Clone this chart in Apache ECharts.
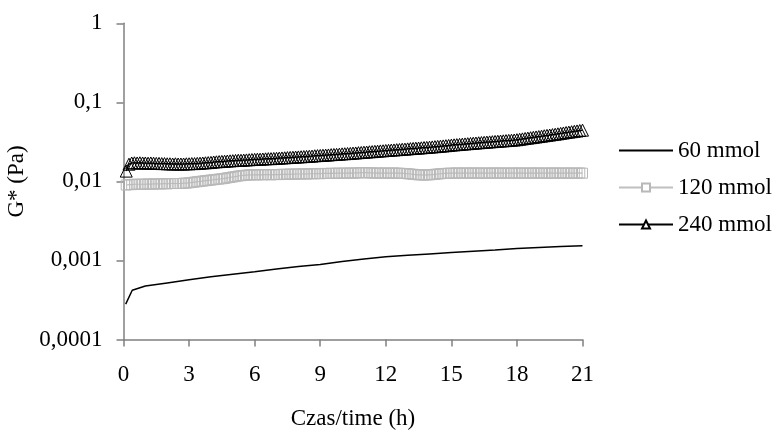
<!DOCTYPE html>
<html lang="pl" style="height: 100%">
<head>
    <meta charset="UTF-8">
    <title>G* w czasie</title>
    <script src="https://cdn.jsdelivr.net/npm/echarts@6/dist/echarts.min.js"></script>
</head>
<body style="height: 100%; margin: 0">
<div id="main" style="width: 774px; height: 430px"></div>
<script>
    // czas pomiaru (h) dla serii 120 i 240 mmol, jeden wiersz = jedna godzina
    var hours = [
        0.125, 0.25, 0.375, 0.5, 0.625, 0.75, 0.875, 1,
        1.125, 1.25, 1.375, 1.5, 1.625, 1.75, 1.875, 2,
        2.125, 2.25, 2.375, 2.5, 2.625, 2.75, 2.875, 3,
        3.125, 3.25, 3.375, 3.5, 3.625, 3.75, 3.875, 4,
        4.125, 4.25, 4.375, 4.5, 4.625, 4.75, 4.875, 5,
        5.125, 5.25, 5.375, 5.5, 5.625, 5.75, 5.875, 6,
        6.125, 6.25, 6.375, 6.5, 6.625, 6.75, 6.875, 7,
        7.125, 7.25, 7.375, 7.5, 7.625, 7.75, 7.875, 8,
        8.125, 8.25, 8.375, 8.5, 8.625, 8.75, 8.875, 9,
        9.125, 9.25, 9.375, 9.5, 9.625, 9.75, 9.875, 10,
        10.125, 10.25, 10.375, 10.5, 10.625, 10.75, 10.875, 11,
        11.125, 11.25, 11.375, 11.5, 11.625, 11.75, 11.875, 12,
        12.125, 12.25, 12.375, 12.5, 12.625, 12.75, 12.875, 13,
        13.125, 13.25, 13.375, 13.5, 13.625, 13.75, 13.875, 14,
        14.125, 14.25, 14.375, 14.5, 14.625, 14.75, 14.875, 15,
        15.125, 15.25, 15.375, 15.5, 15.625, 15.75, 15.875, 16,
        16.125, 16.25, 16.375, 16.5, 16.625, 16.75, 16.875, 17,
        17.125, 17.25, 17.375, 17.5, 17.625, 17.75, 17.875, 18,
        18.125, 18.25, 18.375, 18.5, 18.625, 18.75, 18.875, 19,
        19.125, 19.25, 19.375, 19.5, 19.625, 19.75, 19.875, 20,
        20.125, 20.25, 20.375, 20.5, 20.625, 20.75, 20.875, 21
    ];

    var g120 = [
        0.0090, 0.0091, 0.0091, 0.0092, 0.0092, 0.0092, 0.0092, 0.0092,
        0.0093, 0.0092, 0.0093, 0.0093, 0.0093, 0.0093, 0.0094, 0.0093,
        0.0094, 0.0094, 0.0094, 0.0094, 0.0094, 0.0095, 0.0095, 0.0096,
        0.0097, 0.0098, 0.0099, 0.0100, 0.0101, 0.0102, 0.0103, 0.0104,
        0.0105, 0.0106, 0.0107, 0.0108, 0.0109, 0.0111, 0.0112, 0.0114,
        0.0115, 0.0117, 0.0118, 0.0119, 0.0120, 0.0121, 0.0121, 0.0121,
        0.0121, 0.0122, 0.0121, 0.0122, 0.0122, 0.0121, 0.0122, 0.0122,
        0.0122, 0.0123, 0.0123, 0.0123, 0.0124, 0.0123, 0.0124, 0.0124,
        0.0124, 0.0125, 0.0124, 0.0125, 0.0125, 0.0125, 0.0126, 0.0125,
        0.0126, 0.0126, 0.0126, 0.0127, 0.0126, 0.0127, 0.0127, 0.0127,
        0.0127, 0.0127, 0.0128, 0.0127, 0.0128, 0.0128, 0.0129, 0.0129,
        0.0129, 0.0128, 0.0128, 0.0127, 0.0128, 0.0127, 0.0127, 0.0128,
        0.0127, 0.0127, 0.0128, 0.0127, 0.0127, 0.0126, 0.0126, 0.0125,
        0.0124, 0.0123, 0.0122, 0.0121, 0.0121, 0.0120, 0.0121, 0.0121,
        0.0122, 0.0123, 0.0124, 0.0125, 0.0126, 0.0126, 0.0127, 0.0127,
        0.0127, 0.0128, 0.0127, 0.0127, 0.0128, 0.0127, 0.0127, 0.0128,
        0.0127, 0.0127, 0.0128, 0.0127, 0.0127, 0.0127, 0.0128, 0.0127,
        0.0127, 0.0128, 0.0127, 0.0127, 0.0127, 0.0128, 0.0127, 0.0127,
        0.0128, 0.0127, 0.0127, 0.0127, 0.0128, 0.0127, 0.0127, 0.0128,
        0.0127, 0.0127, 0.0127, 0.0128, 0.0127, 0.0127, 0.0128, 0.0127,
        0.0127, 0.0127, 0.0128, 0.0127, 0.0127, 0.0127, 0.0128, 0.0127
    ];

    var g240 = [
        0.0135, 0.0165, 0.0171, 0.0172, 0.0171, 0.0172, 0.0171, 0.0171,
        0.0170, 0.0171, 0.0170, 0.0169, 0.0169, 0.0168, 0.0168, 0.0167,
        0.0167, 0.0166, 0.0167, 0.0166, 0.0166, 0.0166, 0.0167, 0.0167,
        0.0168, 0.0168, 0.0169, 0.0170, 0.0171, 0.0172, 0.0173, 0.0174,
        0.0176, 0.0177, 0.0178, 0.0179, 0.0180, 0.0181, 0.0182, 0.0183,
        0.0184, 0.0185, 0.0185, 0.0186, 0.0187, 0.0188, 0.0189, 0.0190,
        0.0191, 0.0191, 0.0192, 0.0193, 0.0194, 0.0194, 0.0195, 0.0196,
        0.0197, 0.0198, 0.0199, 0.0200, 0.0201, 0.0202, 0.0203, 0.0204,
        0.0205, 0.0206, 0.0207, 0.0208, 0.0209, 0.0211, 0.0212, 0.0213,
        0.0214, 0.0215, 0.0216, 0.0218, 0.0219, 0.0220, 0.0221, 0.0223,
        0.0224, 0.0225, 0.0226, 0.0228, 0.0229, 0.0231, 0.0232, 0.0234,
        0.0235, 0.0237, 0.0238, 0.0240, 0.0241, 0.0243, 0.0244, 0.0246,
        0.0247, 0.0249, 0.0250, 0.0252, 0.0253, 0.0255, 0.0256, 0.0258,
        0.0260, 0.0261, 0.0263, 0.0264, 0.0266, 0.0268, 0.0269, 0.0271,
        0.0273, 0.0275, 0.0277, 0.0279, 0.0281, 0.0283, 0.0285, 0.0288,
        0.0290, 0.0292, 0.0294, 0.0296, 0.0298, 0.0300, 0.0302, 0.0304,
        0.0306, 0.0308, 0.0310, 0.0312, 0.0314, 0.0316, 0.0318, 0.0320,
        0.0322, 0.0324, 0.0326, 0.0328, 0.0330, 0.0332, 0.0334, 0.0337,
        0.0341, 0.0345, 0.0349, 0.0353, 0.0357, 0.0361, 0.0365, 0.0369,
        0.0373, 0.0378, 0.0382, 0.0386, 0.0391, 0.0395, 0.0400, 0.0405,
        0.0410, 0.0415, 0.0420, 0.0425, 0.0430, 0.0435, 0.0440, 0.0445
    ];

    // seria 60 mmol: [czas (h), G* (Pa)]
    var g60 = [
        [0.1, 0.00028], [0.4, 0.00042], [1, 0.000475], [2, 0.00052], [3, 0.00057], [4, 0.00062],
        [5, 0.00067], [6, 0.00072], [7, 0.00078], [8, 0.00084], [9, 0.00089], [10, 0.00097],
        [11, 0.00104], [12, 0.00111], [13, 0.00116], [14, 0.00121], [15, 0.00126], [16, 0.00131],
        [17, 0.00136], [18, 0.00142], [19, 0.00146], [20, 0.0015], [21, 0.00154]
    ];

    var seriesNames = ['60 mmol', '120 mmol', '240 mmol'];
    var yTickLabels = ['0,0001', '0,001', '0,01', '0,1', '1'];

    function pairs(xs, ys) {
        return xs.map(function (x, i) { return [x, ys[i]]; });
    }

    var font = 'Liberation Serif';
    var axisGray = '#808080';
    var clear = 'rgba(255,255,255,0)';

    var option = {
        animation: false,
        backgroundColor: '#fff',
        textStyle: {fontFamily: font, color: '#000'},
        grid: {left: 123.5, right: 191.5, top: 23.3, bottom: 90.5, outerBoundsMode: 'none'},
        legend: {
            orient: 'vertical',
            left: 613,
            top: 134,
            itemWidth: 54,
            itemHeight: 10,
            itemGap: 14,
            textStyle: {fontFamily: font, fontSize: 23, color: '#000'},
            data: [
                {name: seriesNames[0], itemStyle: {opacity: 0}},
                {name: seriesNames[1], itemStyle: {color: '#fff'}},
                {name: seriesNames[2], itemStyle: {color: '#fff'}}
            ]
        },
        xAxis: {
            type: 'value',
            min: 0,
            max: 21,
            interval: 3,
            name: 'Czas/time (h)',
            nameLocation: 'middle',
            nameGap: 68,
            nameTextStyle: {fontFamily: font, fontSize: 23, color: '#000'},
            axisLine: {lineStyle: {color: axisGray, width: 1.5}},
            axisTick: {length: 7, lineStyle: {color: axisGray, width: 1.5}},
            axisLabel: {fontFamily: font, fontSize: 23, color: '#000', margin: 24},
            splitLine: {show: false}
        },
        yAxis: {
            type: 'log',
            logBase: 10,
            min: 0.0001,
            max: 1,
            name: 'G* (Pa)',
            nameLocation: 'middle',
            nameGap: 84,
            nameTextStyle: {fontFamily: font, fontSize: 23, color: '#000'},
            axisLine: {show: true, lineStyle: {color: axisGray, width: 1.5}},
            axisTick: {show: true, length: 7, lineStyle: {color: axisGray, width: 1.5}},
            axisLabel: {
                fontFamily: font, fontSize: 23, color: '#000', margin: 21,
                formatter: function (v) {
                    return yTickLabels[Math.round(Math.log10(v)) + 4];
                }
            },
            splitLine: {show: false},
            minorTick: {show: false}
        },
        series: [
            {
                name: seriesNames[0],
                type: 'line',
                data: g60,
                symbol: 'none',
                lineStyle: {color: '#000', width: 1.5},
                itemStyle: {color: '#000'}
            },
            {
                name: seriesNames[1],
                type: 'line',
                data: pairs(hours, g120),
                symbol: 'rect',
                symbolSize: 10,
                showAllSymbol: true,
                lineStyle: {color: '#c0c0c0', width: 1.2},
                itemStyle: {color: clear, borderColor: '#b8b8b8', borderWidth: 1}
            },
            {
                name: seriesNames[2],
                type: 'line',
                data: pairs(hours, g240),
                symbol: 'triangle',
                symbolSize: [12, 12],
                showAllSymbol: true,
                lineStyle: {color: '#000', width: 1.5},
                itemStyle: {color: clear, borderColor: '#000', borderWidth: 1}
            }
        ]
    };

    var myChart = echarts.init(document.getElementById('main'));
    myChart.setOption(option);
</script>
</body>
</html>
